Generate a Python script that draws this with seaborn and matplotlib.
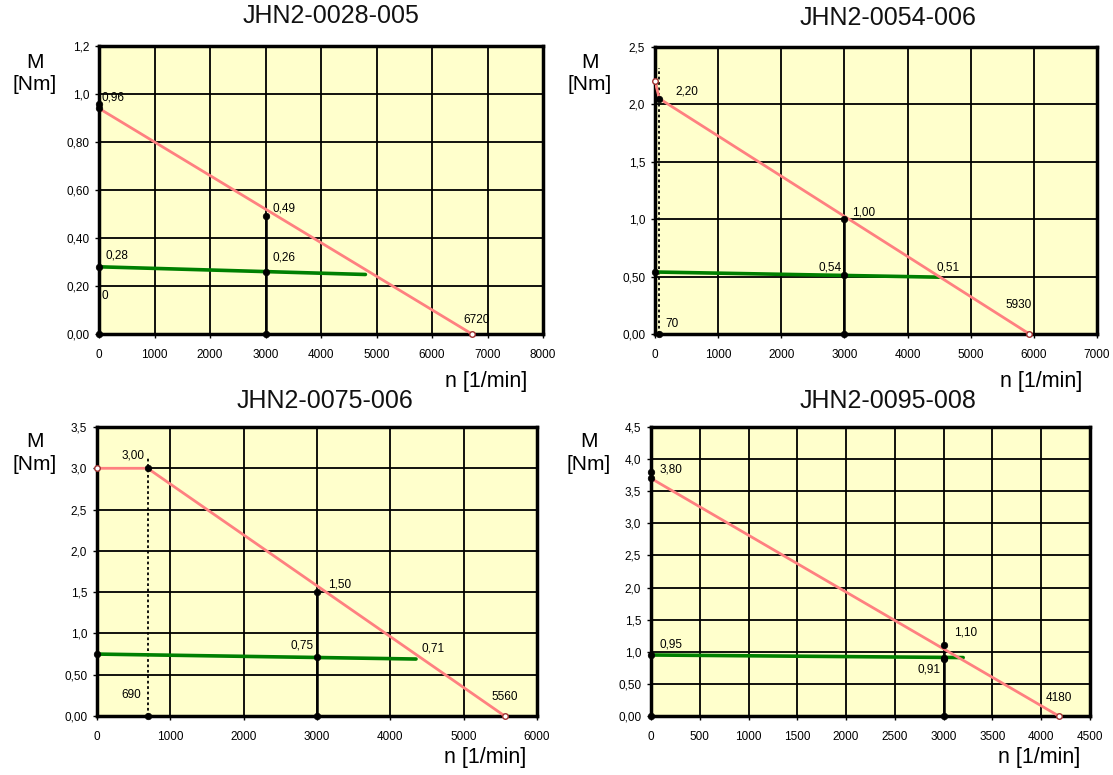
import matplotlib
matplotlib.use("Agg")
import matplotlib.pyplot as plt
import seaborn as sns

sns.set_theme(style="white")
plt.rcParams['font.family'] = ['Liberation Sans', 'DejaVu Sans']
plt.rcParams['text.color'] = "black"
plt.rcParams['xtick.color'] = "black"
plt.rcParams['ytick.color'] = "black"

RED = "#FF8080"
GREEN = "#008000"
BG = "#FFFFCC"
W, H = 1113, 775

# ---- JHN2-0028-005
P1_TITLE = "JHN2-0028-005"
P1_XTICKS = [0, 1000, 2000, 3000, 4000, 5000, 6000, 7000, 8000]
P1_YTICKS = [0.0, 0.2, 0.4, 0.6, 0.8, 1.0, 1.2]
P1_YLABELS = ["0,00", "0,20", "0,40", "0,60", "0,80", "1,0", "1,2"]
P1_RED_N = [0, 6720]
P1_RED_M = [0.94, 0.0]
P1_GREEN_N = [0, 4800]
P1_GREEN_M = [0.28, 0.248]
P1_DOT_N = [0, 0, 3000, 0, 3000, 0, 3000]
P1_DOT_M = [0.96, 0.94, 0.49, 0.28, 0.26, 0.0, 0.0]
P1_OPEN_N = [6720]
P1_OPEN_M = [0.0]
P1_DROP = (3000, 0.49)
P1_DOTTED = None
P1_LABELS = ["0,96", "0,49", "0,28", "0,26", "0", "6720"]
P1_LABEL_N = [0, 3000, 0, 3000, 0, 6720]
P1_LABEL_M = [0.96, 0.49, 0.28, 0.26, 0.0, 0.0]

# ---- JHN2-0054-006
P2_TITLE = "JHN2-0054-006"
P2_XTICKS = [0, 1000, 2000, 3000, 4000, 5000, 6000, 7000]
P2_YTICKS = [0.0, 0.5, 1.0, 1.5, 2.0, 2.5]
P2_YLABELS = ["0,00", "0,50", "1,0", "1,5", "2,0", "2,5"]
P2_RED_N = [0, 70, 5930]
P2_RED_M = [2.20, 2.05, 0.0]
P2_GREEN_N = [0, 4500]
P2_GREEN_M = [0.54, 0.495]
P2_DOT_N = [70, 3000, 3000, 0, 70, 3000]
P2_DOT_M = [2.05, 1.00, 0.51, 0.54, 0.0, 0.0]
P2_OPEN_N = [0, 5930]
P2_OPEN_M = [2.20, 0.0]
P2_DROP = (3000, 1.00)
P2_DOTTED = (70, 2.32)
P2_LABELS = ["2,20", "1,00", "0,54", "0,51", "5930", "70"]
P2_LABEL_N = [70, 3000, 3000, 4500, 5930, 70]
P2_LABEL_M = [2.05, 1.00, 0.51, 0.495, 0.0, 0.0]

# ---- JHN2-0075-006
P3_TITLE = "JHN2-0075-006"
P3_XTICKS = [0, 1000, 2000, 3000, 4000, 5000, 6000]
P3_YTICKS = [0.0, 0.5, 1.0, 1.5, 2.0, 2.5, 3.0, 3.5]
P3_YLABELS = ["0,00", "0,50", "1,0", "1,5", "2,0", "2,5", "3,0", "3,5"]
P3_RED_N = [0, 690, 5560]
P3_RED_M = [3.0, 3.0, 0.0]
P3_GREEN_N = [0, 4350]
P3_GREEN_M = [0.75, 0.69]
P3_DOT_N = [690, 3000, 3000, 0, 690, 3000]
P3_DOT_M = [3.0, 1.50, 0.71, 0.75, 0.0, 0.0]
P3_OPEN_N = [0, 5560]
P3_OPEN_M = [3.0, 0.0]
P3_DROP = (3000, 1.50)
P3_DOTTED = (690, 3.15)
P3_LABELS = ["3,00", "1,50", "0,75", "0,71", "690", "5560"]
P3_LABEL_N = [690, 3000, 3000, 4350, 690, 5560]
P3_LABEL_M = [3.0, 1.50, 0.71, 0.69, 0.0, 0.0]

# ---- JHN2-0095-008
P4_TITLE = "JHN2-0095-008"
P4_XTICKS = [0, 500, 1000, 1500, 2000, 2500, 3000, 3500, 4000, 4500]
P4_YTICKS = [0.0, 0.5, 1.0, 1.5, 2.0, 2.5, 3.0, 3.5, 4.0, 4.5]
P4_YLABELS = ["0,00", "0,50", "1,0", "1,5", "2,0", "2,5", "3,0", "3,5", "4,0", "4,5"]
P4_RED_N = [0, 4180]
P4_RED_M = [3.70, 0.0]
P4_GREEN_N = [0, 3200]
P4_GREEN_M = [0.95, 0.91]
P4_DOT_N = [0, 0, 3000, 0, 3000, 3000, 0, 3000]
P4_DOT_M = [3.80, 3.70, 1.10, 0.95, 0.91, 0.89, 0.0, 0.0]
P4_OPEN_N = [4180]
P4_OPEN_M = [0.0]
P4_DROP = (3000, 1.10)
P4_DOTTED = None
P4_LABELS = ["3,80", "1,10", "0,95", "0,91", "4180"]
P4_LABEL_N = [0, 3000, 0, 3000, 4180]
P4_LABEL_M = [3.80, 1.10, 0.95, 0.91, 0.0]

# layout (pixels): axes box, title centre, label offsets
LAYOUT = [
    dict(box=(99, 46, 543, 334), title=(331, 16), m=(35, 62), n=(486, 382),
         offs=[(2, 6, "left"), (7, 8, "left"), (7, 11, "left"), (7, 14, "left"),
               (2, 38, "left"), (5, 14, "center")]),
    dict(box=(655, 47, 1097, 334), title=(888, 18), m=(590, 62), n=(1041, 382),
         offs=[(16, 7, "left"), (8, 7, "left"), (-3, 8, "right"), (-3, 10, "left"),
               (2, 29, "right"), (6, 10, "left")]),
    dict(box=(97, 427, 537, 716), title=(325, 401), m=(35, 441), n=(485, 758),
         offs=[(-3, 13, "right"), (11, 8, "left"), (-3, 12, "right"), (6, 11, "left"),
               (-6, 21, "right"), (0, 19, "center")]),
    dict(box=(651, 427, 1090, 716), title=(888, 401), m=(589, 441), n=(1039, 758),
         offs=[(9, 2, "left"), (10, 13, "left"), (8, 10, "left"), (-3, -12, "right"),
               (0, 18, "center")]),
]

PANELS = [
    (P1_TITLE, P1_XTICKS, P1_YTICKS, P1_YLABELS, P1_RED_N, P1_RED_M, P1_GREEN_N, P1_GREEN_M,
     P1_DOT_N, P1_DOT_M, P1_OPEN_N, P1_OPEN_M, P1_DROP, P1_DOTTED, P1_LABELS, P1_LABEL_N, P1_LABEL_M),
    (P2_TITLE, P2_XTICKS, P2_YTICKS, P2_YLABELS, P2_RED_N, P2_RED_M, P2_GREEN_N, P2_GREEN_M,
     P2_DOT_N, P2_DOT_M, P2_OPEN_N, P2_OPEN_M, P2_DROP, P2_DOTTED, P2_LABELS, P2_LABEL_N, P2_LABEL_M),
    (P3_TITLE, P3_XTICKS, P3_YTICKS, P3_YLABELS, P3_RED_N, P3_RED_M, P3_GREEN_N, P3_GREEN_M,
     P3_DOT_N, P3_DOT_M, P3_OPEN_N, P3_OPEN_M, P3_DROP, P3_DOTTED, P3_LABELS, P3_LABEL_N, P3_LABEL_M),
    (P4_TITLE, P4_XTICKS, P4_YTICKS, P4_YLABELS, P4_RED_N, P4_RED_M, P4_GREEN_N, P4_GREEN_M,
     P4_DOT_N, P4_DOT_M, P4_OPEN_N, P4_OPEN_M, P4_DROP, P4_DOTTED, P4_LABELS, P4_LABEL_N, P4_LABEL_M),
]


def px(x, y):
    return x / W, 1 - y / H


def draw_panel(fig, panel, lay):
    (title, xticks, yticks, ylabels, red_n, red_m, green_n, green_m,
     dot_n, dot_m, open_n, open_m, drop, dotted, labels, lab_n, lab_m) = panel
    x0, y0, x1, y1 = lay["box"]
    ax = fig.add_axes([x0 / W, 1 - y1 / H, (x1 - x0) / W, (y1 - y0) / H])
    ax.set_facecolor(BG)
    ax.set_axisbelow(True)
    ax.grid(True, color="black", lw=1.3)

    # drop line at 3000 and dotted marker line
    ax.plot([drop[0], drop[0]], [0, drop[1]], color="black", lw=1.8, zorder=2)
    if dotted is not None:
        ax.plot([dotted[0], dotted[0]], [0, dotted[1]], color="black", lw=1.3,
                ls=(0, (1.5, 1.5)), zorder=2)

    sns.lineplot(x=green_n, y=green_m, ax=ax, color=GREEN, lw=2.6, sort=False,
                 estimator=None, zorder=3)
    sns.lineplot(x=red_n, y=red_m, ax=ax, color=RED, lw=2.0, sort=False,
                 estimator=None, zorder=4)
    sns.scatterplot(x=dot_n, y=dot_m, ax=ax, color="black", s=22, edgecolor="black",
                    linewidth=0.5, zorder=5, clip_on=False)
    sns.scatterplot(x=open_n, y=open_m, ax=ax, color="white", s=16, edgecolor="#A03030",
                    linewidth=1.0, zorder=6, clip_on=False)

    for txt, n, m, (dx, dy, ha) in zip(labels, lab_n, lab_m, lay["offs"]):
        ax.annotate(txt, (n, m), xytext=(dx, dy), textcoords="offset pixels",
                    ha=ha, va="center", fontsize=8.5, color="black", zorder=7)

    ax.set_xlim(xticks[0], xticks[-1])
    ax.set_ylim(yticks[0], yticks[-1])
    ax.set_xticks(xticks)
    ax.set_xticklabels([str(t) for t in xticks])
    ax.set_yticks(yticks)
    ax.set_yticklabels(ylabels)
    ax.tick_params(axis="both", labelsize=8.5, length=3, width=1, color="black",
                   labelcolor="black", direction="out", bottom=True, left=True)
    ax.tick_params(axis="x", pad=8)
    ax.tick_params(axis="y", pad=4)
    for sp in ax.spines.values():
        sp.set_visible(True)
        sp.set_color("black")
        sp.set_linewidth(2.5)
    ax.set_xlabel("")
    ax.set_ylabel("")

    fig.text(*px(*lay["title"]), title, ha="center", va="center", fontsize=18, color="#111111")
    mx, my = lay["m"]
    fig.text(*px(mx, my), "M", ha="center", va="center", fontsize=15)
    fig.text(*px(mx, my + 23), "[Nm]", ha="center", va="center", fontsize=15)
    fig.text(*px(*lay["n"]), "n [1/min]", ha="center", va="center", fontsize=15.5)


fig = plt.figure(figsize=(W / 100, H / 100), dpi=100)
fig.patch.set_facecolor("white")
for panel, lay in zip(PANELS, LAYOUT):
    draw_panel(fig, panel, lay)

fig.savefig("out.png", dpi=100, facecolor="white")
